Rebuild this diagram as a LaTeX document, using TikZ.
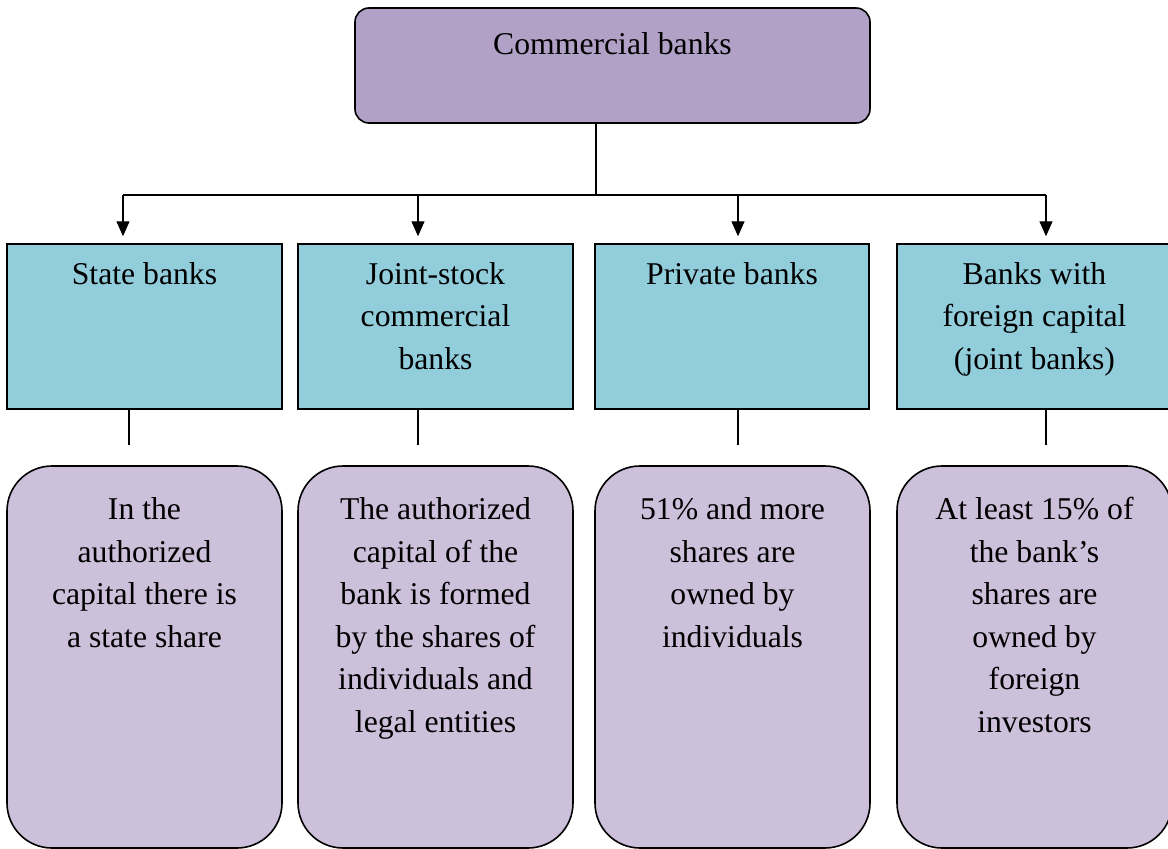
\documentclass[tikz,border=0pt]{standalone}
\usepackage{fontspec}
\setmainfont{Liberation Serif}
\usetikzlibrary{arrows.meta}
\definecolor{toppurple}{HTML}{B2A1C7}
\definecolor{midblue}{HTML}{92CDDC}
\definecolor{lowpurple}{HTML}{CCC0DA}
\begin{document}
\begin{tikzpicture}[x=1pt,y=-1pt,
  topbox/.style={draw, line width=1.6pt, fill=toppurple, rounded corners=14pt, inner sep=0pt, minimum width=515pt, minimum height=115pt},
  midbox/.style={draw, line width=1.5pt, fill=midblue, inner sep=0pt, minimum width=275pt, minimum height=165pt},
  lowbox/.style={draw, line width=1.6pt, fill=lowpurple, rounded corners=45pt, inner sep=0pt, minimum width=275pt, minimum height=382pt},
  lbl/.style={anchor=base, align=center, inner sep=0pt, font=\fontsize{31.7}{42.5}\selectfont},
  conn/.style={line width=1.4pt},
  arr/.style={conn, -{Triangle[length=15pt,width=13pt]}, shorten >=7pt}]
\useasboundingbox (0,0) rectangle (1168,849);
% top box
\node[topbox] (top) at (612.5,65.5) {};
\node[lbl] (ttop) at (612.5,54) {Commercial banks};
% middle boxes
\node[midbox] (b1) at (144.5,326.5) {};
\node[midbox] (b2) at (435.5,326.5) {};
\node[midbox, minimum width=274pt] (b3) at (732,326.5) {};
\node[midbox] (b4) at (1034.5,326.5) {};
% (base anchor = baseline of the last line)
\node[lbl] (tb1) at (144.5,284) {State banks};
\node[lbl] (tb2) at (435.5,369) {Joint-stock\\commercial\\banks};
\node[lbl] (tb3) at (732,284) {Private banks};
\node[lbl] (tb4) at (1034.5,369) {Banks with\\foreign capital\\(joint banks)};
% lower boxes
\node[lowbox] (d1) at (144.5,657) {};
\node[lowbox] (d2) at (435.5,657) {};
\node[lowbox] (d3) at (732.5,657) {};
\node[lowbox] (d4) at (1034.5,657) {};
\node[lbl] (td1) at (144.5,647) {In the\\authorized\\capital there is\\a state share};
\node[lbl] (td2) at (435.5,732) {The authorized\\capital of the\\bank is formed\\by the shares of\\individuals and\\legal entities};
\node[lbl] (td3) at (732.5,647) {51\% and more\\shares are\\owned by\\individuals};
\node[lbl] (td4) at (1034.5,732) {At least 15\% of\\the bank’s\\shares are\\owned by\\foreign\\investors};
% connectors
\coordinate (j) at (596,195);
\coordinate (a1) at (123,195);
\coordinate (a2) at (418,195);
\coordinate (a3) at (738,195);
\coordinate (a4) at (1046,195);
\coordinate (c1) at (129,445);
\coordinate (c2) at (418,445);
\coordinate (c3) at (738,445);
\coordinate (c4) at (1046,445);
\draw[conn] (j |- top.south) -- (j);
\draw[conn] (a1) -- (a4);
\draw[arr] (a1) -- (a1 |- b1.north);
\draw[arr] (a2) -- (a2 |- b2.north);
\draw[arr] (a3) -- (a3 |- b3.north);
\draw[arr] (a4) -- (a4 |- b4.north);
\draw[conn] (c1 |- b1.south) -- (c1);
\draw[conn] (c2 |- b2.south) -- (c2);
\draw[conn] (c3 |- b3.south) -- (c3);
\draw[conn] (c4 |- b4.south) -- (c4);
\end{tikzpicture}
\end{document}
